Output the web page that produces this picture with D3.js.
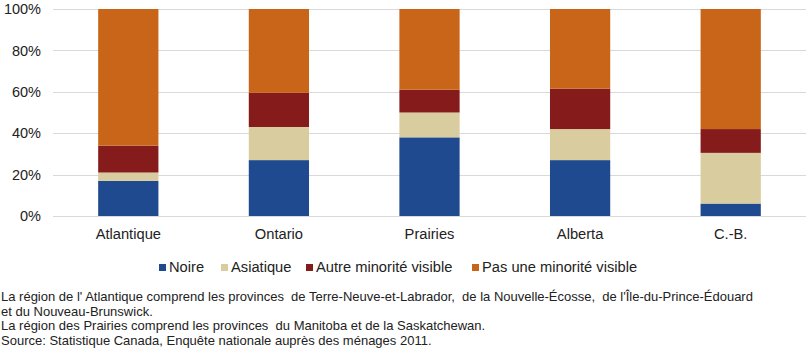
<!DOCTYPE html>
<html><head><meta charset="utf-8">
<script src="https://cdn.jsdelivr.net/npm/d3@7"></script>
<style>body{margin:0;background:#fff;}svg{display:block;font-family:"Liberation Sans",Arial,sans-serif;}</style>
</head><body>
<svg id="c" width="807" height="355"></svg>
<script>
const categories = ["Atlantique","Ontario","Prairies","Alberta","C.-B."];
const seriesNames = ["Noire","Asiatique","Autre minorité visible","Pas une minorité visible"];
const noire = [17, 27, 38, 27, 6];
const asiatique = [4, 16, 12, 15, 24.5];
const autre = [13, 16.5, 11, 19.5, 11.5];
const pasUne = [66, 40.5, 39, 38.5, 58];
const yTicks = [0, 20, 40, 60, 80, 100];
const colors = ["#1F4A8F", "#D9CC9E", "#861B1B", "#C86519"];
const notes = [
  "La région de l' Atlantique comprend les provinces  de Terre-Neuve-et-Labrador,  de la Nouvelle-Écosse,  de l'Île-du-Prince-Édouard",
  "et du Nouveau-Brunswick.",
  "La région des Prairies comprend les provinces  du Manitoba et de la Saskatchewan.",
  "Source: Statistique Canada, Enquête nationale auprès des ménages 2011."
];

const svg = d3.select("#c");
const pLeft = 53, pRight = 806, pTop = 9, pBottom = 216;
const x = d3.scaleBand().domain(categories).range([pLeft, pRight]).paddingInner(0.6).paddingOuter(0.3);
const y = d3.scaleLinear().domain([0, 100]).range([pBottom, pTop]);

// gridlines
svg.append("g").selectAll("line").data(yTicks).join("line")
  .attr("x1", pLeft).attr("x2", pRight)
  .attr("y1", d => Math.round(y(d)) + 0.5).attr("y2", d => Math.round(y(d)) + 0.5)
  .attr("stroke", "#D9D9D9").attr("stroke-width", 1);

// y axis labels
const yAxis = d3.axisLeft(y).tickValues(yTicks).tickFormat(d => d + "%").tickSize(0).tickPadding(12);
const ya = svg.append("g").attr("transform", `translate(${pLeft},0)`).call(yAxis);
ya.select(".domain").remove();
ya.selectAll("text").attr("font-size", 14.5).attr("fill", "#222").attr("font-family", "Liberation Sans, Arial, sans-serif");

// stacked data
const table = categories.map((c, i) => ({cat: c, s0: noire[i], s1: asiatique[i], s2: autre[i], s3: pasUne[i]}));
const stack = d3.stack().keys(["s0","s1","s2","s3"])(table);
svg.append("g").selectAll("g").data(stack).join("g")
  .attr("fill", (d, i) => colors[i])
  .selectAll("rect").data(d => d).join("rect")
  .attr("x", d => x(d.data.cat))
  .attr("width", x.bandwidth())
  .attr("y", d => y(d[1]))
  .attr("height", d => y(d[0]) - y(d[1]));

// x axis labels
const xAxis = d3.axisBottom(x).tickSize(0).tickPadding(13);
const xa = svg.append("g").attr("transform", `translate(0,${pBottom})`).call(xAxis);
xa.select(".domain").remove();
xa.selectAll("text").attr("font-size", 14.7).attr("fill", "#222").attr("font-family", "Liberation Sans, Arial, sans-serif");

// legend
const legendX = [159, 221, 306, 472];
const lg = svg.append("g").selectAll("g").data(seriesNames).join("g")
  .attr("transform", (d, i) => `translate(${legendX[i]},264)`);
lg.append("rect").attr("width", 7).attr("height", 7).attr("fill", (d, i) => colors[i]);
lg.append("text").attr("x", 10).attr("y", 8).attr("font-size", 14.7).attr("fill", "#222").text(d => d);

// notes
svg.append("g").selectAll("text").data(notes).join("text")
  .attr("x", 1).attr("y", (d, i) => 301 + i * 14.5)
  .attr("font-size", 13).attr("fill", "#222")
  .style("white-space", "pre")
  .text(d => d);
</script>
</body></html>
